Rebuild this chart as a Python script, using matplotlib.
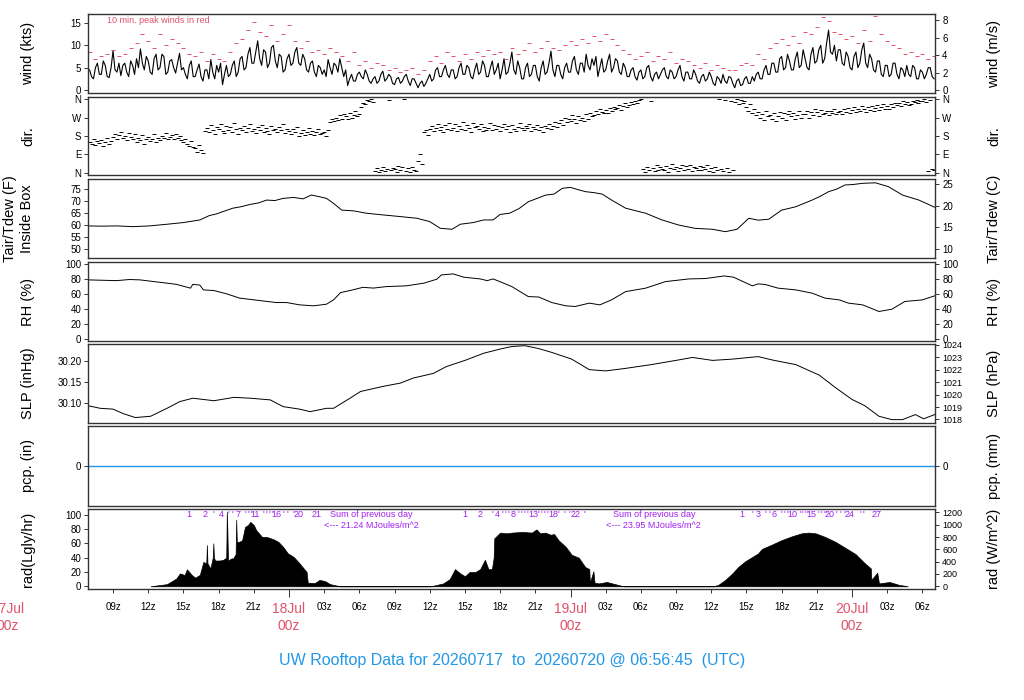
import matplotlib
matplotlib.use('Agg')
import matplotlib.pyplot as plt
import matplotlib.transforms as mtransforms
import numpy as np

plt.rcParams['font.family'] = ['Liberation Sans', 'DejaVu Sans']

# ---- data, time in hours since 2026-07-17 00z ----
# 10-min mean wind (kts), one row per hour from 07z 17Jul
wind_start, wind_step = 7.0, 1 / 6
wind_kts = [4.5, 3.0, 2.5, 5.0, 6.0, 3.5, 3.5, 6.5, 5.5, 3.0, 2.8, 5.0,
            8.8, 4.5, 4.0, 6.0, 3.2, 5.5, 6.0, 4.0, 3.0, 6.5, 5.5, 3.5,
            7.0, 5.0, 9.2, 6.0, 4.5, 7.5, 6.5, 4.0, 3.5, 7.0, 8.0, 4.5,
            5.0, 8.0, 7.5, 3.5, 4.0, 6.5, 6.8, 5.0, 3.8, 6.0, 8.2, 4.5,
            5.0, 3.5, 2.5, 5.5, 6.5, 3.0, 3.0, 4.5, 5.8, 3.0, 2.0, 4.5,
            4.5, 2.5, 6.8, 4.0, 2.5, 5.5, 4.0, 6.0, 1.2, 3.5, 5.5, 3.0,
            3.5, 5.5, 6.5, 3.0, 4.0, 7.0, 7.5, 4.5, 5.0, 8.0, 9.5, 6.0,
            6.0, 8.5, 11.0, 7.0, 5.5, 9.0, 8.5, 5.0, 6.0, 9.5, 10.0, 6.5,
            5.0, 8.0, 7.5, 4.0, 4.5, 7.0, 8.0, 5.5, 6.0, 8.5, 9.5, 6.0,
            5.5, 8.0, 7.0, 4.5, 4.0, 6.0, 6.5, 4.0, 3.0, 5.5, 5.0, 3.5,
            4.5, 3.0, 6.8, 5.0, 3.5, 6.0, 5.5, 4.0, 7.0, 5.0, 3.0, 4.5,
            1.0, 2.5, 3.5, 2.0, 2.0, 3.5, 4.0, 3.0, 2.5, 4.5, 3.5, 2.0,
            1.5, 2.5, 3.0, 1.5, 2.0, 3.5, 4.2, 2.0, 2.5, 3.5, 3.0, 1.5,
            1.2, 2.5, 2.8, 1.5, 2.0, 3.0, 3.5, 2.0, 1.0, 2.5, 2.5, 1.5,
            0.5, 1.5, 2.0, 0.8, 1.5, 2.5, 3.5, 2.0, 2.5, 4.5, 5.0, 3.0,
            3.0, 4.5, 5.5, 3.5, 2.8, 4.5, 4.5, 2.5, 3.0, 5.0, 6.0, 3.5,
            3.5, 5.5, 5.0, 3.0, 2.5, 4.5, 6.0, 3.5, 4.0, 6.5, 5.5, 3.0,
            3.0, 5.0, 6.5, 3.5, 4.5, 6.0, 2.5, 4.5, 7.0, 3.5, 4.0, 6.0,
            8.5, 4.5, 3.5, 6.5, 5.0, 2.5, 2.5, 5.0, 6.0, 3.0, 3.5, 5.5,
            5.5, 3.0, 2.0, 5.0, 6.5, 3.5, 4.0, 6.0, 8.7, 4.5, 3.0, 5.5,
            5.5, 3.5, 2.5, 5.0, 6.0, 4.0, 4.0, 6.5, 7.5, 4.5, 3.5, 6.0,
            6.0, 4.0, 8.0, 5.5, 4.5, 7.0, 5.5, 7.5, 3.0, 5.0, 7.0, 4.0,
            4.5, 6.5, 8.0, 4.0, 5.0, 7.0, 6.5, 4.0, 3.5, 6.0, 5.0, 3.0,
            3.0, 4.5, 5.0, 3.0, 2.2, 4.0, 4.5, 2.5, 3.0, 5.0, 5.5, 3.0,
            2.0, 3.5, 4.0, 2.5, 3.5, 4.5, 5.0, 3.0, 2.5, 4.5, 4.0, 2.5,
            3.0, 4.5, 5.5, 3.0, 2.0, 4.0, 4.0, 2.5, 2.5, 4.5, 3.5, 2.0,
            1.5, 3.0, 3.5, 2.0, 2.5, 4.0, 3.0, 1.5, 1.0, 3.0, 2.5, 1.5,
            3.5, 2.0, 1.5, 3.0, 2.8, 1.5, 0.5, 2.0, 2.5, 1.0, 1.2, 2.5,
            3.0, 1.5, 1.5, 3.0, 2.0, 3.5, 4.0, 2.5, 2.5, 4.5, 5.5, 3.5,
            3.5, 6.0, 6.0, 4.0, 4.0, 7.0, 7.5, 4.5, 5.0, 8.0, 6.5, 4.5,
            4.5, 7.0, 8.5, 5.0, 5.5, 9.0, 7.0, 5.0, 4.5, 8.0, 9.5, 6.0,
            6.5, 9.0, 10.0, 6.0, 7.0, 10.5, 13.4, 8.5, 8.0, 10.0, 6.5, 9.0,
            9.0, 6.0, 5.5, 8.5, 7.5, 5.0, 4.5, 7.5, 8.5, 5.0, 6.0, 9.0,
            10.5, 6.0, 5.0, 8.0, 7.0, 4.5, 4.0, 6.5, 6.5, 3.5, 3.0, 5.5,
            5.5, 3.0, 3.5, 6.0, 6.0, 3.5, 2.5, 5.0, 4.5, 3.0, 5.5, 3.5,
            3.0, 5.5, 5.0, 2.5, 2.5, 4.5, 4.0, 2.5, 3.5, 5.0, 5.0, 3.0,
            2.5]

# 10-min peak wind (kts), every 30 min
peak_start, peak_step = 7.0, 0.5
peak_kts = [8.5, 7.0, 7.5, 8.0, 9.0, 7.5, 8.0, 9.5, 10.5, 12.5, 11.0, 9.5,
            12.5, 10.0, 11.5, 10.5, 9.5, 8.0, 7.5, 8.5, 6.5, 8.0, 7.0, 6.5,
            8.5, 10.5, 11.5, 13.5, 15.3, 13.0, 12.0, 14.5, 11.0, 12.5, 14.5, 11.0,
            9.5, 11.0, 8.5, 9.0, 8.0, 9.5, 8.5, 7.5, 6.5, 8.5, 5.5, 6.5,
            5.0, 6.0, 5.5, 4.5, 5.0, 4.0, 4.5, 5.0, 3.5, 4.5, 6.5, 7.5,
            6.0, 8.5, 7.5, 6.5, 8.0, 7.0, 8.5, 7.5, 9.0, 8.0, 8.5, 7.0,
            9.5, 8.0, 9.0, 10.5, 8.5, 9.5, 11.0, 9.5, 9.0, 10.0, 11.0, 10.0,
            11.5, 10.5, 12.0, 11.0, 12.5, 11.5, 10.0, 9.0, 8.0, 7.0, 7.5, 8.5,
            6.5, 7.5, 7.0, 8.5, 6.0, 7.0, 6.5, 5.5, 5.0, 6.0, 4.5, 5.5,
            5.0, 4.5, 4.5, 5.5, 6.0, 5.5, 8.0, 7.0, 9.5, 10.5, 11.5, 10.0,
            12.0, 10.5, 13.0, 12.5, 14.0, 16.4, 15.5, 13.0, 12.5, 11.5, 12.0, 10.5,
            13.5, 11.0, 16.5, 12.5, 11.0, 10.0, 9.5, 8.0, 8.5, 7.5, 8.0, 7.0,
            7.5]

# wind direction (deg), every 10 min
dir_start, dir_step = 7.0, 1 / 6
dir_deg = [150, 140, 165, 135, 155, 145, 160, 130, 150, 170, 140, 155,
           175, 190, 165, 185, 200, 170, 180, 160, 195, 175, 165, 190,
           150, 170, 160, 185, 140, 165, 175, 155, 165, 190, 150, 170,
           160, 180, 170, 195, 165, 175, 185, 165, 190, 170, 180, 160,
           150, 165, 140, 130, 155, 125, 120, 100, 135, 110, 95, 205,
           220, 200, 235, 210, 190, 225, 215, 240, 205, 195, 230, 210,
           225, 200, 245, 215, 190, 220, 210, 230, 200, 220, 240, 205,
           215, 195, 225, 210, 235, 200, 220, 205, 190, 230, 210, 215,
           200, 225, 210, 240, 195, 215, 205, 190, 215, 200, 225, 180,
           195, 210, 185, 200, 220, 190, 205, 185, 200, 215, 190, 195,
           200, 180, 210, 250, 265, 255, 270, 260, 280, 265, 285, 275,
           265, 290, 270, 280, 300, 275, 285, 320, 340, 335, 355, 350,
           358, 345, 10, 25, 5, 15, 30, 8, 20, 355, 12, 25,
           18, 5, 35, 15, 28, 360, 10, 22, 3, 30, 15, 8,
           60, 90, 45, 200, 210, 185, 215, 230, 205, 220, 240, 210,
           225, 200, 235, 215, 245, 210, 220, 240, 205, 230, 215, 250,
           210, 235, 220, 200, 245, 225, 230, 215, 240, 205, 225, 210,
           220, 245, 210, 235, 215, 230, 205, 225, 240, 215, 230, 200,
           235, 215, 205, 225, 245, 220, 210, 230, 220, 240, 205, 225,
           215, 235, 210, 225, 200, 230, 220, 240, 215, 230, 250, 225,
           245, 260, 235, 270, 250, 265, 255, 280, 265, 245, 275, 260,
           270, 255, 285, 265, 290, 275, 280, 300, 285, 310, 295, 290,
           305, 290, 315, 300, 320, 310, 315, 330, 305, 325, 340, 320,
           330, 345, 335, 350, 340, 355, 358, 20, 5, 30, 15, 350,
           25, 10, 40, 15, 30, 20, 15, 35, 5, 25, 45, 20,
           30, 10, 25, 40, 15, 35, 20, 40, 10, 30, 25, 15,
           35, 15, 30, 20, 40, 10, 25, 5, 30, 15, 360, 20,
           10, 355, 25, 5, 350, 15, 345, 360, 335, 355, 340, 350,
           320, 300, 335, 290, 310, 280, 295, 270, 285, 260, 300, 275,
           280, 265, 290, 255, 275, 295, 270, 290, 260, 285, 300, 275,
           290, 265, 280, 300, 270, 285, 285, 300, 270, 295, 280, 310,
           295, 275, 305, 285, 290, 300, 280, 300, 290, 310, 285, 295,
           300, 285, 310, 295, 315, 290, 305, 320, 295, 310, 300, 325,
           310, 295, 320, 305, 325, 300, 315, 330, 305, 320, 335, 310,
           325, 310, 335, 320, 340, 330, 340, 325, 350, 335, 345, 330,
           335, 350, 345, 355, 340, 350, 350, 358, 345, 10, 355, 20,
           15]

# inside-box air temperature (F)
temp_h = [6.9, 8.0, 9.3, 10.7, 12.1, 13.6, 15.0, 16.4, 17.2, 17.8, 18.5, 19.2,
          19.9, 20.7, 21.4, 22.1, 22.8, 23.5, 24.4, 25.2, 25.9, 26.6, 27.2, 27.8,
          28.5, 29.5, 30.6, 32.0, 33.5, 34.9, 36.0, 36.9, 37.9, 38.6, 39.7, 40.6,
          41.4, 42.0, 42.8, 43.6, 44.4, 45.1, 45.9, 46.6, 47.3, 48.0, 48.6, 49.3,
          50.0, 50.7, 51.5, 52.7, 54.4, 55.8, 57.2, 58.6, 60.1, 61.2, 62.2, 63.2,
          64.0, 64.9, 66.0, 67.2, 68.6, 69.3, 70.0, 70.7, 71.4, 72.1, 72.9, 74.0,
          75.1, 76.3, 77.7, 79.05]
temp_f = [59.6, 59.5, 59.6, 59.3, 59.6, 60.3, 61.0, 62.1, 63.9, 64.6, 65.8, 67.0,
          67.6, 68.6, 69.2, 70.4, 70.2, 71.1, 71.5, 70.9, 72.5, 71.8, 71.1, 69.0,
          66.2, 65.9, 64.9, 64.2, 63.5, 62.8, 61.4, 58.6, 58.2, 60.3, 61.0, 62.1,
          62.1, 64.4, 64.9, 66.8, 69.7, 71.0, 72.5, 72.9, 75.3, 75.7, 74.8, 73.9,
          73.5, 72.9, 70.4, 67.0, 64.9, 62.1, 60.0, 58.6, 58.2, 57.2, 58.2, 62.8,
          62.0, 62.4, 66.2, 67.6, 70.4, 72.0, 73.9, 75.0, 76.7, 76.9, 77.4, 77.6,
          76.0, 72.5, 70.4, 67.4]

# relative humidity (%)
rh_h = [6.9, 9.3, 10.4, 11.3, 13.6, 14.4, 15.6, 15.8, 16.4, 16.7, 17.6, 18.7,
        19.8, 21.5, 22.9, 23.8, 24.9, 26.1, 27.2, 27.8, 28.4, 29.2, 30.3, 31.2,
        32.3, 34.0, 35.5, 36.6, 37.0, 38.0, 38.9, 40.3, 40.9, 41.4, 42.3, 43.0,
        44.4, 45.3, 46.4, 47.6, 48.4, 49.6, 50.5, 51.5, 52.7, 54.4, 56.1, 58.1,
        59.5, 61.1, 61.9, 63.5, 64.0, 64.6, 65.7, 67.2, 68.6, 69.7, 70.9, 71.7,
        72.9, 74.3, 75.4, 76.5, 78.0, 79.05]
rh_pct = [79, 78, 79.5, 79, 74.6, 73, 67.9, 73, 72, 65.6, 64.7, 60.2,
          54.5, 51.3, 48.6, 48.6, 45.5, 44.2, 46.4, 52.2, 62, 64.7, 69, 68,
          70, 71, 74.6, 79.9, 85.7, 87, 82.6, 80.3, 78, 80.3, 74.6, 70,
          56.6, 56, 48.6, 44.2, 43.3, 47.8, 45.5, 52.2, 63.3, 67.9, 76.7, 80.3,
          80.8, 84.3, 82.6, 71, 73.6, 72.8, 67.9, 65.6, 61.2, 54.5, 52.2, 47.8,
          45.5, 36.6, 39.7, 50, 52.2, 57.6]

# sea level pressure (inHg)
slp_h = [6.9, 7.9, 9.0, 9.9, 10.9, 12.2, 13.6, 14.7, 15.8, 17.6, 19.3, 20.7,
         22.4, 23.5, 24.9, 25.8, 27.2, 27.8, 29.2, 30.1, 32.0, 33.5, 34.6, 36.3,
         37.4, 39.1, 40.6, 42.0, 43.0, 44.1, 45.3, 46.4, 48.1, 49.6, 51.0, 52.7,
         54.9, 57.2, 58.4, 60.1, 61.8, 64.0, 65.2, 67.2, 69.2, 70.6, 72.0, 73.1,
         74.3, 75.4, 76.3, 77.4, 78.1, 79.05]
slp_inhg = [30.094, 30.088, 30.086, 30.075, 30.066, 30.069, 30.088, 30.104, 30.112, 30.106,
            30.114, 30.112, 30.108, 30.092, 30.086, 30.080, 30.088, 30.088, 30.112, 30.128,
            30.140, 30.148, 30.160, 30.171, 30.187, 30.203, 30.219, 30.229, 30.235, 30.237,
            30.230, 30.221, 30.205, 30.180, 30.177, 30.183, 30.192, 30.203, 30.209, 30.202,
            30.205, 30.211, 30.203, 30.192, 30.167, 30.137, 30.109, 30.094, 30.069, 30.061,
            30.061, 30.073, 30.063, 30.073]

# precipitation (in)
pcp_h = [6.9, 79.05]
pcp_in = [0.0, 0.0]

# solar radiation (Langley/hr)
rad_h = [12.2, 13.6, 14.4, 14.7, 15.1, 15.3, 15.7, 16.0, 16.4, 16.7, 16.95, 17.0,
         17.05, 17.3, 17.5, 17.55, 17.6, 17.7, 18.1, 18.4, 18.65, 18.7, 18.75, 18.8,
         19.1, 19.25, 19.45, 19.5, 19.55, 19.7, 20.0, 20.25, 20.5, 20.7, 21.0, 21.2,
         21.7, 22.1, 22.7, 23.1, 23.5, 23.9, 24.4, 24.9, 25.5, 25.6, 26.2, 26.6,
         27.1, 27.5, 28.35,
         36.1, 37.15, 37.7, 38.15, 38.6, 39.0, 39.4, 39.9, 40.3, 40.7, 41.0, 41.3,
         41.45, 41.5, 42.0, 42.55, 43.0, 43.9, 44.7, 45.1, 45.4, 45.85, 46.3, 46.6,
         47.0, 47.6, 48.1, 48.7, 49.25, 49.6, 49.65, 49.95, 50.05, 50.4, 51.1, 51.8,
         52.5,
         60.2, 60.6, 61.2, 61.8, 62.3, 62.9, 63.5, 64.0, 64.3, 65.2, 66.0, 66.9,
         67.7, 68.3, 68.9, 69.7, 70.6, 71.4, 72.3, 73.1, 73.6, 73.65, 74.15, 74.3,
         75.2, 76.0, 76.75]
rad_ly = [0, 3, 11, 18, 15.7, 23.7, 16, 12, 16, 34, 32, 57.6,
          32, 25, 40, 60, 40, 36, 36, 37, 40, 104, 74, 36,
          39, 39, 45, 93, 62, 62, 64, 83, 85.5, 90, 85.5, 78.5,
          69, 69, 65.5, 62, 55, 46, 41, 32, 20, 5, 4.5, 9,
          7, 3, 0,
          0, 4, 10, 24, 18, 14, 20, 20, 24, 37, 24, 24,
          40, 67, 75, 74, 75, 76, 75, 79.5, 74, 75, 72, 73,
          64, 55, 44, 40, 27, 24, 5, 21, 5, 4, 6, 3,
          0,
          0, 2, 9, 18, 27, 35, 41, 46, 52, 58.5, 64.5, 70,
          74, 75, 74, 69, 62, 54, 45, 32, 25, 9, 19, 4,
          6, 2, 0]

# times where the daily running total passed each whole MJ/m^2
mj_day1_h = [15.47, 16.84, 17.52, 18.2, 18.8, 19.14, 19.65, 20.25, 20.5, 20.76, 21.1,
             21.78, 22.04, 22.29, 22.55, 22.89, 23.5, 23.9, 24.34, 24.85, 26.39]
mj_day1_lab = [1, 2, 4, 7, 11, 16, 20, 21]
mj_day2_h = [39.0, 40.28, 41.3, 41.73, 42.16, 42.41, 42.67, 43.1, 43.52, 43.78, 44.03,
             44.29, 44.8, 45.23, 45.48, 45.74, 46.0, 46.5, 47.0, 47.44, 47.87, 48.46, 49.14]
mj_day2_lab = [1, 2, 4, 8, 13, 18, 22]
mj_day3_h = [62.62, 63.47, 63.98, 64.58, 64.92, 65.35, 65.94, 66.2, 66.45, 66.88, 67.56,
             67.73, 67.99, 68.16, 68.5, 69.1, 69.35, 69.61, 69.78, 70.12, 70.63, 70.97,
             71.31, 71.82, 72.67, 73.01, 74.12]
mj_day3_lab = [1, 3, 6, 10, 15, 20, 24, 27]
day_totals = ['21.24', '23.95']
day_total_h = [31.0, 55.1]

day_names = ['17Jul', '18Jul', '19Jul', '20Jul']
day_h = [0, 24, 48, 72]

# ---- figure ----
W, H = 1024, 700
fig = plt.figure(figsize=(W / 100, H / 100), dpi=100)
L, R = 88.3, 935.3
panels_px = [(14, 93), (97, 175), (179, 258), (262, 341), (344, 423), (426, 506), (509, 589)]
xlim = (6.89, 79.1)

RED = '#DF536B'
BLUE = '#2297E6'
PURP = '#A020F0'


def panel(top, bot):
    ax = fig.add_axes([L / W, 1 - bot / H, (R - L) / W, (bot - top) / H])
    ax.set_xlim(*xlim)
    ax.set_xticks([])
    for s in ax.spines.values():
        s.set_color('#333333')
        s.set_linewidth(1.0)
    ax.tick_params(axis='y', labelsize=7, length=3, width=0.7, color='#333333', pad=2)
    return ax


def right_axis(ax, fwd, inv, ticks, labels=None, size=7):
    sec = ax.secondary_yaxis('right', functions=(fwd, inv))
    sec.set_yticks(ticks)
    if labels is not None:
        sec.set_yticklabels(labels)
    sec.tick_params(labelsize=size, length=3, width=0.7, color='#333333', pad=2)
    sec.spines['right'].set_visible(False)
    return sec


def side_labels(top, bot, left, right):
    yc = 1 - (top + bot) / 2 / H
    if isinstance(left, tuple):
        fig.text(10 / W, yc, left[0], rotation=90, ha='center', va='center', fontsize=10.5)
        fig.text(27 / W, yc, left[1], rotation=90, ha='center', va='center', fontsize=10.5)
    else:
        fig.text(28 / W, yc, left, rotation=90, ha='center', va='center', fontsize=10.5)
    fig.text(994 / W, yc, right, rotation=90, ha='center', va='center', fontsize=10.5)


axes = [panel(t, b) for t, b in panels_px]
ax_w, ax_d, ax_t, ax_rh, ax_p, ax_pcp, ax_r = axes

# wind
wt = wind_start + wind_step * np.arange(len(wind_kts))
pt = peak_start + peak_step * np.arange(len(peak_kts))
ax_w.plot(wt, wind_kts, color='black', lw=0.8)
ax_w.plot(pt, peak_kts, ls='none', marker='_', ms=3, mew=0.7, color=RED)
ax_w.set_ylim(-0.67, 17.0)
ax_w.set_yticks([0, 5, 10, 15])
right_axis(ax_w, lambda k: k * 0.514444, lambda m: m / 0.514444, [0, 2, 4, 6, 8])
ax_w.text(8.5, 0.92, '10 min. peak winds in red', color=RED, fontsize=6.5,
          transform=mtransforms.blended_transform_factory(ax_w.transData, ax_w.transAxes),
          va='center', ha='left')

# direction
dt = dir_start + dir_step * np.arange(len(dir_deg))
ax_d.plot(dt, dir_deg, ls='none', marker='_', ms=2.5, mew=0.7, color='black')
ax_d.set_ylim(-10, 370)
dir_ticks = [0, 90, 180, 270, 360]
dir_labels = ['N', 'E', 'S', 'W', 'N']
ax_d.set_yticks(dir_ticks, dir_labels)
right_axis(ax_d, lambda v: v, lambda v: v, dir_ticks, dir_labels)

# temperature
ax_t.plot(temp_h, temp_f, color='black', lw=0.7)
ax_t.set_ylim(46.2, 79.2)
ax_t.set_yticks([50, 55, 60, 65, 70, 75])
right_axis(ax_t, lambda f: (f - 32) * 5 / 9, lambda c: c * 9 / 5 + 32, [10, 15, 20, 25])

# relative humidity
ax_rh.plot(rh_h, rh_pct, color='black', lw=0.7)
ax_rh.set_ylim(-3, 103)
ax_rh.set_yticks([0, 20, 40, 60, 80, 100])
right_axis(ax_rh, lambda v: v, lambda v: v, [0, 20, 40, 60, 80, 100])

# pressure
ax_p.plot(slp_h, slp_inhg, color='black', lw=0.7)
ax_p.set_ylim(30.053, 30.241)
ax_p.set_yticks([30.10, 30.15, 30.20], ['30.10', '30.15', '30.20'])
right_axis(ax_p, lambda v: v * 33.8639, lambda v: v / 33.8639,
           [1018, 1019, 1020, 1021, 1022, 1023, 1024], size=6.5)

# precipitation
ax_pcp.plot(pcp_h, pcp_in, color=BLUE, lw=1.0)
ax_pcp.set_ylim(-1, 1)
ax_pcp.set_yticks([0])
right_axis(ax_pcp, lambda v: v * 25.4, lambda v: v / 25.4, [0])

# radiation
ax_r.fill_between(rad_h, rad_ly, 0, color='black', lw=0.5)
ax_r.set_ylim(-3.8, 108)
ax_r.set_yticks([0, 20, 40, 60, 80, 100])
right_axis(ax_r, lambda v: v * 11.63, lambda v: v / 11.63,
           [0, 200, 400, 600, 800, 1000, 1200], size=6.5)

tr = mtransforms.blended_transform_factory(ax_r.transData, ax_r.transAxes)
for hours, labeled in [(mj_day1_h, mj_day1_lab), (mj_day2_h, mj_day2_lab), (mj_day3_h, mj_day3_lab)]:
    for n, h in enumerate(hours, start=1):
        txt = str(n) if n in labeled else "'"
        ax_r.text(h, 0.935, txt, transform=tr, color=PURP, fontsize=6.5, ha='center', va='center')
for total, h in zip(day_totals, day_total_h):
    ax_r.text(h, 0.935, 'Sum of previous day', transform=tr, color=PURP, fontsize=6.5,
              ha='center', va='center')
    ax_r.text(h, 0.79, '<--- %s MJoules/m^2' % total, transform=tr, color=PURP, fontsize=6.5,
              ha='center', va='center')

# time axis
major = [h for h in range(9, 79, 3) if h % 24 != 0]
ax_r.set_xticks(major, ['%02dz' % (h % 24) for h in major])
ax_r.set_xticks(day_h[1:], minor=True)
ax_r.tick_params(axis='x', which='major', labelsize=7, length=3, width=0.7, pad=6, color='#333333')
ax_r.tick_params(axis='x', which='minor', length=6, width=0.7, color='#333333')
for name, h in zip(day_names, day_h):
    ax_r.text(h, -0.25, name, transform=tr, color=RED, fontsize=10, ha='center', va='center')
    ax_r.text(h, -0.4625, '00z', transform=tr, color=RED, fontsize=10, ha='center', va='center')

# axis labels
left_labels = ['wind (kts)', 'dir.', ('Tair/Tdew (F)', 'Inside Box'), 'RH (%)', 'SLP (inHg)',
               'pcp. (in)', 'rad(Lgly/hr)']
right_labels = ['wind (m/s)', 'dir.', 'Tair/Tdew (C)', 'RH (%)', 'SLP (hPa)', 'pcp. (mm)',
                'rad (W/m^2)']
for (t, b), ll, rl in zip(panels_px, left_labels, right_labels):
    side_labels(t, b, ll, rl)

fig.text(0.5, 1 - 660 / H, 'UW Rooftop Data for 20260717  to  20260720 @ 06:56:45  (UTC)',
         color=BLUE, fontsize=11.5, ha='center', va='center')

fig.savefig('out.png', dpi=100)
